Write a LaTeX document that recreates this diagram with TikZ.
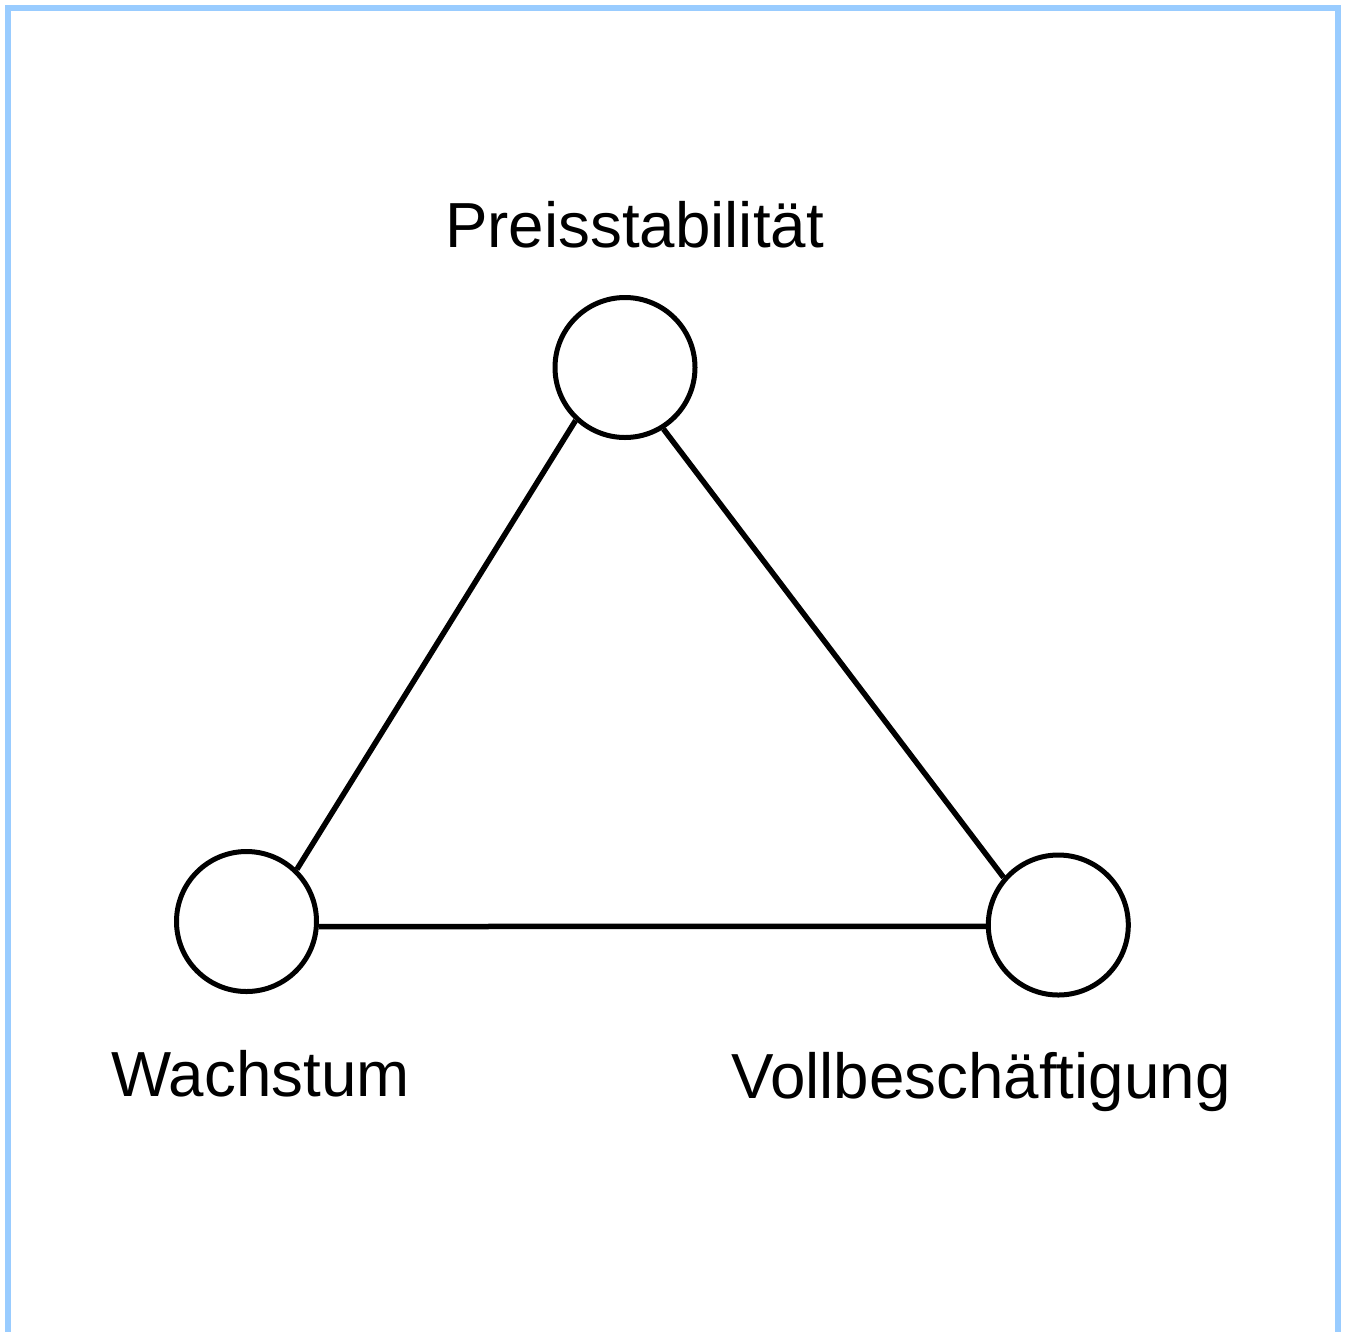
\documentclass[tikz,border=0pt]{standalone}
\usepackage{fontspec}
\setmainfont{Liberation Sans}
\begin{document}
\begin{tikzpicture}[x=1pt,y=-1pt,
  goal/.style={circle,draw=black,line width=5pt,minimum size=140pt,inner sep=0pt,fill=white},
  link/.style={draw=black,line width=5.5pt},
  lbl/.style={anchor=base west,inner sep=0pt,font=\fontsize{63.7}{70}\selectfont}]
\useasboundingbox (0,0) rectangle (1348,1331);
\clip (0,0) rectangle (1348,1331);
\draw[line width=6pt,draw={rgb,255:red,153;green,204;blue,255}] (8,1400) -- (8,8) -- (1338,8) -- (1338,1400);
\node[goal] (p) at (625,367.5) {};
\node[goal] (w) at (246.5,921.5) {};
\node[goal] (v) at (1058.3,925) {};
\draw[link] (p.-133) -- (w.46);
\draw[link] (p.-58) -- (v.139);
\draw[link] (w.-4) -- (v.181);
\node[lbl] (tp) at (445,247) {Preisstabilität};
\node[lbl] (tw) at (111,1096) {Wachstum};
\node[lbl] (tv) at (731,1098) {Vollbeschäftigung};
\end{tikzpicture}
\end{document}
